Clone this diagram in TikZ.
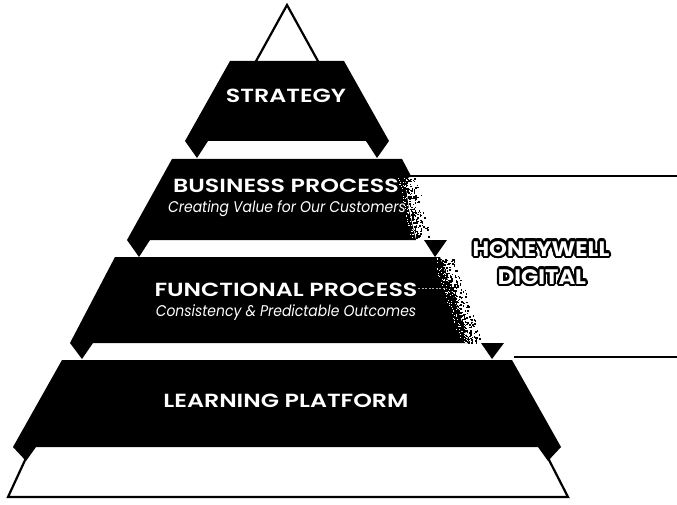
\documentclass[tikz,border=0pt]{standalone}
\usepackage{fontspec}
\setmainfont{Poppins}
\newfontfamily\titlefont{Poppins SemiBold}[FakeStretch=1.25]
\newfontfamily\subfont{Poppins Italic}[FakeStretch=0.9]
\newfontfamily\hwfont{Poppins Bold}[FakeStretch=1.08]
\usetikzlibrary{calc}
\tikzset{
  band/.style={fill=black,draw=none},
  foldtri/.style={fill=black,draw=none},
  outline/.style={draw=black,line width=2.2pt,line join=miter},
  bracket/.style={draw=black,line width=2pt},
  title/.style={text=white,inner sep=0pt,anchor=base,font=\titlefont\fontsize{19}{19}\selectfont},
  subtitle/.style={text=white,inner sep=0pt,anchor=base,font=\subfont\fontsize{15.5}{16}\selectfont},
  hw/.style={inner sep=0pt,anchor=base,font=\hwfont\fontsize{21}{21}\selectfont},
  speck/.style={fill=black,draw=none},
}
\begin{document}
\begin{tikzpicture}[x=1pt,y=-1pt]
\useasboundingbox (0,0) rectangle (677,505);
\fill[white] (0,0) rectangle (677,505);
% outline of pyramid: top and base parts
\draw[outline] (255,63) -- (287,5) -- (319,63);
\draw[outline] (26,458) -- (8,497) -- (568,497) -- (548,458);
% Strategy band
\fill[band] (230,61) -- (344,61) -- (389,141) -- (185,141) -- cycle;
\fill[foldtri] (185,141) -- (208,141) -- (197,158) -- cycle;
\fill[foldtri] (389,141) -- (366,141) -- (377,158) -- cycle;
% Business band (right side dissolved)
\fill[band] (172,159) -- (402,159) -- (411,176) -- (405,180) -- (409,210) -- (416,240) -- (127,240) -- cycle;
\fill[foldtri] (127,240) -- (150,240) -- (139,257) -- cycle;
\fill[foldtri] (447,240) -- (424,240) -- (435,257) -- cycle;
% Functional band (right side dissolved)
\fill[band] (115,257) -- (440,257) -- (469,343) -- (70,343) -- cycle;
\fill[foldtri] (70,343) -- (93,343) -- (82,359) -- cycle;
\fill[foldtri] (504,343) -- (481,343) -- (492,359) -- cycle;
% Learning band
\fill[band] (62,360) -- (512,360) -- (561,447) -- (13,447) -- cycle;
\fill[foldtri] (13,447) -- (36,447) -- (26,461) -- cycle;
\fill[foldtri] (561,447) -- (538,447) -- (548,461) -- cycle;
% speckles (dissolve texture)
\pgfmathsetseed{11}
\foreach \i in {1,...,170}{
  \pgfmathsetmacro\py{178+60*rnd}
  \pgfmathsetmacro\r{rnd}
  \pgfmathsetmacro\px{404+(\py-178)*0.2+14*\r*\r}
  \fill[speck] (\px,\py) rectangle ++(1.5,1.5);
}
\foreach \i in {1,...,60}{
  \pgfmathsetmacro\py{178+60*rnd}
  \pgfmathsetmacro\px{398+(\py-178)*0.2+6*rnd}
  \fill[white] (\px,\py) rectangle ++(1,1);
}
\foreach \i in {1,...,280}{
  \pgfmathsetmacro\py{258+85*rnd}
  \pgfmathsetmacro\r{rnd}
  \pgfmathsetmacro\px{440+(\py-257)*0.33+14*\r*\r}
  \fill[speck] (\px,\py) rectangle ++(1.5,1.5);
}
\foreach \i in {1,...,90}{
  \pgfmathsetmacro\py{258+85*rnd}
  \pgfmathsetmacro\px{432+(\py-257)*0.33+8*rnd}
  \fill[white] (\px,\py) rectangle ++(1,1);
}
% bracket lines
\coordinate (bt0) at (409,176);
\coordinate (bt1) at (677,176);
\coordinate (bb0) at (514,357);
\coordinate (bb1) at (677,357);
\draw[bracket] (bt0) -- (bt1);
\draw[bracket] (bb0) -- (bb1);
% faint dashed trace after FUNCTIONAL PROCESS
\coordinate (ds0) at (418,288);
\coordinate (ds1) at (447,288);
\draw[gray!60,line width=0.6pt,dash pattern=on 2pt off 1.5pt] (ds0) -- (ds1);
% texts
\node[title] (strategy) at (286,103) {STRATEGY};
\node[title] (business) at (286,193) {BUSINESS PROCESS};
\node[subtitle] (busub) at (287,212) {Creating Value for Our Customers};
\node[title] (functional) at (286,296) {FUNCTIONAL PROCESS};
\node[subtitle] (funsub) at (286,316) {Consistency \& Predictable Outcomes};
\node[title] (learning) at (286,407) {LEARNING PLATFORM};
% Honeywell Digital outlined text (black halo copies under white text)
\coordinate (hwc) at (541,256);
\coordinate (dgc) at (542,284);
\foreach \a in {0,22.5,...,337.5}{
  \node[hw,text=black] (hwa\a) at ($(hwc)+(\a:2.3)$) {HONEYWELL};
  \node[hw,text=black] (hwb\a) at ($(dgc)+(\a:2.3)$) {DIGITAL};
}
\node[hw,text=white] (honeywell) at (hwc) {HONEYWELL};
\node[hw,text=white] (digital) at (dgc) {DIGITAL};
\end{tikzpicture}
\end{document}
